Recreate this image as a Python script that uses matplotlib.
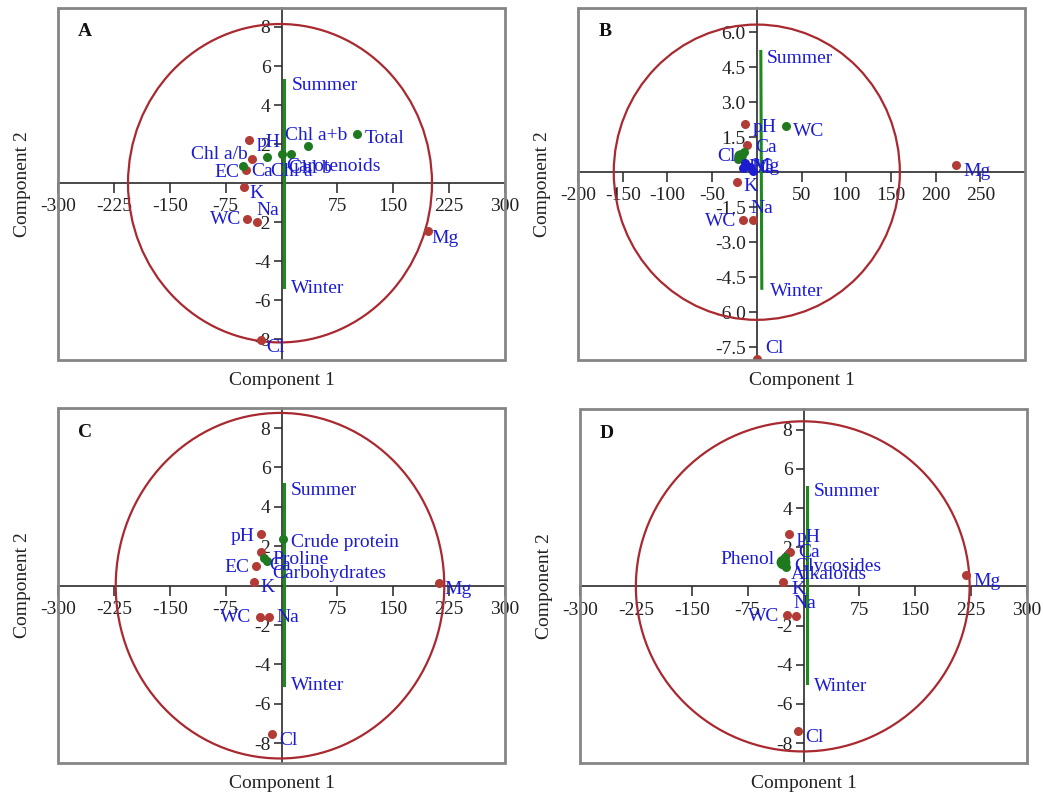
import numpy as np
import matplotlib
matplotlib.use('Agg')
import matplotlib.pyplot as plt
from matplotlib.patches import Ellipse, Rectangle

plt.rcParams['font.family'] = ['Liberation Serif', 'DejaVu Serif']

# ---- panel A ----
a_red_names = ['pH', 'Chl a/b', 'Ca', 'K', 'WC', 'Na', 'Mg', 'Cl']
a_red_x = [-43, -40, -48, -51, -46, -33, 196, -27]
a_red_y = [2.2, 1.23, 0.67, -0.2, -1.85, -2.0, -2.45, -8.05]
a_green_names = ['EC', 'Chl a', 'Chl b', 'Carotenoids', 'Chl a+b', 'Total']
a_green_x = [-52, -19, 1, 13, 35, 102]
a_green_y = [0.87, 1.33, 1.49, 1.49, 1.9, 2.5]
a_season_x = [4, 4]
a_season_y = [5.3, -5.3]
a_circle = [-2, 204, 8.15]          # centre x, radius x, radius y
a_xticks = [-300, -225, -150, -75, 75, 150, 225, 300]
a_yticks = [-8, -6, -4, -2, 2, 4, 6, 8]

# ---- panel B ----
b_red_names = ['pH', 'Ca', 'K', 'WC', 'Na', 'Mg', 'Cl']
b_red_x = [-13, -11, -21.6, -15.6, -3.7, 223, 0]
b_red_y = [2.07, 1.17, -0.4, -2.04, -2.04, 0.29, -8.0]
b_green_names = ['WC', 'Cl', '', '']
b_green_x = [32.4, -18.6, -14, -21]
b_green_y = [1.96, 0.7, 0.85, 0.55]
b_blue_names = ['EC', 'Mg', 'Na', '']
b_blue_x = [-13, -7.4, -3.7, -15.6]
b_blue_y = [0.39, 0.24, 0.07, 0.17]
b_season_x = [4.5, 5.6]
b_season_y = [5.17, -4.97]
b_circle = [0, 160, 6.32]
b_xticks = [-200, -150, -100, -50, 50, 100, 150, 200, 250]
b_yticks = [-7.5, -6.0, -4.5, -3.0, -1.5, 1.5, 3.0, 4.5, 6.0]

# ---- panel C ----
c_red_names = ['pH', 'Ca', 'EC', 'K', 'WC', 'Na', 'Mg', 'Cl']
c_red_x = [-27, -27, -34, -37, -29, -16.6, 212, -13.4]
c_red_y = [2.64, 1.72, 1.0, 0.19, -1.57, -1.57, 0.14, -7.54]
c_green_names = ['Crude protein', 'Proline', 'Carbohydrates']
c_green_x = [2.2, -23, -19]
c_green_y = [2.35, 1.41, 1.26]
c_season_x = [3.6, 3.6]
c_season_y = [5.14, -5.02]
c_circle = [-2, 220.5, 8.77]
c_xticks = a_xticks
c_yticks = a_yticks

# ---- panel D ----
d_red_names = ['pH', 'Ca', 'K', 'WC', 'Na', 'Mg', 'Cl']
d_red_x = [-19, -18, -27, -22.4, -9.9, 218.5, -7.6]
d_red_y = [2.69, 1.77, 0.24, -1.45, -1.5, 0.6, -7.4]
d_green_names = ['Phenol', 'Glycosides', 'Alkaloids']
d_green_x = [-27, -25, -24]
d_green_y = [1.26, 1.5, 1.0]
d_season_x = [4.9, 4.9]
d_season_y = [5.1, -4.94]
d_circle = [-1, 224, 8.43]
d_xticks = a_xticks
d_yticks = a_yticks

RED = '#b23b36'
GREEN = '#1f7a1f'
BLUE = '#1c1cd2'
LINE_GREEN = '#1e8a1e'
CIRCLE = '#a8292f'

# label offsets in pixels: (dx, dy, ha)
offsets = {
    'A': {('r', 'pH'): (7, -2, 'left'), ('r', 'Chl a/b'): (-4, 5, 'right'),
          ('r', 'Ca'): (6, -1, 'left'), ('r', 'K'): (6, -6, 'left'),
          ('r', 'WC'): (-6, 0, 'right'), ('r', 'Na'): (-1, 12, 'left'),
          ('r', 'Mg'): (4, -7, 'left'), ('r', 'Cl'): (5, -7, 'left'),
          ('g', 'EC'): (-3, -6, 'right'), ('g', 'Chl a'): (4, -14, 'left'),
          ('g', 'Chl b'): (7, -14, 'left'), ('g', 'Carotenoids'): (-5, -12, 'left'),
          ('g', 'Chl a+b'): (-23, 11, 'left'), ('g', 'Total'): (7, -4, 'left'),
          ('s', 0): (7, -6), ('s', 1): (7, -2)},
    'B': {('r', 'pH'): (7, -4, 'left'), ('r', 'Ca'): (8, -3, 'left'),
          ('r', 'K'): (6, -5, 'left'), ('r', 'WC'): (-6, -2, 'right'),
          ('r', 'Na'): (-3, 11, 'left'), ('r', 'Mg'): (7, -6, 'left'),
          ('r', 'Cl'): (8, 11, 'left'), ('g', 'WC'): (7, -5, 'left'),
          ('g', 'Cl'): (-5, -1, 'right'), ('b', 'EC'): (3, -4, 'left'),
          ('b', 'Mg'): (2, 0, 'left'), ('b', 'Na'): (-2, 2, 'left'),
          ('s', 0): (6, -7), ('s', 1): (8, -3)},
    'C': {('r', 'pH'): (-7, -3, 'right'), ('r', 'Ca'): (8, -14, 'left'),
          ('r', 'EC'): (-7, -2, 'right'), ('r', 'K'): (6, -6, 'left'),
          ('r', 'WC'): (-9, -1, 'right'), ('r', 'Na'): (7, -1, 'left'),
          ('r', 'Mg'): (5, -7, 'left'), ('r', 'Cl'): (8, -6, 'left'),
          ('g', 'Crude protein'): (8, -3, 'left'), ('g', 'Proline'): (8, -2, 'left'),
          ('g', 'Carbohydrates'): (5, -13, 'left'),
          ('s', 0): (7, -6), ('s', 1): (7, -1)},
    'D': {('r', 'pH'): (7, -4, 'left'), ('r', 'Ca'): (8, -1, 'left'),
          ('r', 'K'): (8, -8, 'left'), ('r', 'WC'): (-7, -2, 'right'),
          ('r', 'Na'): (-3, 12, 'left'), ('r', 'Mg'): (7, -7, 'left'),
          ('r', 'Cl'): (7, -6, 'left'), ('g', 'Phenol'): (-9, 2, 'right'),
          ('g', 'Glycosides'): (9, -9, 'left'), ('g', 'Alkaloids'): (5, -8, 'left'),
          ('s', 0): (7, -5), ('s', 1): (7, -3)},
}

big = {('B', 'g', 'Cl'): 9, ('D', 'g', 'Phenol'): 10}

panels = {
    'A': dict(series=[('r', a_red_names, a_red_x, a_red_y, RED),
                      ('g', a_green_names, a_green_x, a_green_y, GREEN)],
              season=(a_season_x, a_season_y), circle=a_circle,
              xticks=a_xticks, yticks=a_yticks, xlim=(-300, 300), ylim=(-9.05, 8.97),
              rect=(58, 8, 505, 360), fmt='%d'),
    'B': dict(series=[('r', b_red_names, b_red_x, b_red_y, RED),
                      ('g', b_green_names, b_green_x, b_green_y, GREEN),
                      ('b', b_blue_names, b_blue_x, b_blue_y, BLUE)],
              season=(b_season_x, b_season_y), circle=b_circle,
              xticks=b_xticks, yticks=b_yticks, xlim=(-200, 300), ylim=(-8.04, 7.03),
              rect=(578, 8, 1025, 360), fmt='%.1f'),
    'C': dict(series=[('r', c_red_names, c_red_x, c_red_y, RED),
                      ('g', c_green_names, c_green_x, c_green_y, GREEN)],
              season=(c_season_x, c_season_y), circle=c_circle,
              xticks=c_xticks, yticks=c_yticks, xlim=(-300, 300), ylim=(-9.0, 9.02),
              rect=(58, 408, 505, 763), fmt='%d'),
    'D': dict(series=[('r', d_red_names, d_red_x, d_red_y, RED),
                      ('g', d_green_names, d_green_x, d_green_y, GREEN)],
              season=(d_season_x, d_season_y), circle=d_circle,
              xticks=d_xticks, yticks=d_yticks, xlim=(-300, 300), ylim=(-9.02, 9.06),
              rect=(580, 409, 1027, 763), fmt='%d'),
}

W, H = 1043, 799
fig = plt.figure(figsize=(W / 100, H / 100), dpi=100)

for letter, p in panels.items():
    x0, y0, x1, y1 = p['rect']
    ax = fig.add_axes([x0 / W, 1 - y1 / H, (x1 - x0) / W, (y1 - y0) / H])
    ax.set_xlim(*p['xlim'])
    ax.set_ylim(*p['ylim'])

    # axes crossing at the origin, grey frame around
    ax.spines['left'].set_position('zero')
    ax.spines['bottom'].set_position('zero')
    ax.spines['top'].set_visible(False)
    ax.spines['right'].set_visible(False)
    for s in ('left', 'bottom'):
        ax.spines[s].set_color('#2a2a2a')
        ax.spines[s].set_linewidth(1.2)
    ax.add_patch(Rectangle((0, 0), 1, 1, transform=ax.transAxes, fill=False,
                           ec='#858585', lw=2.0, clip_on=False, zorder=6))

    ax.set_xticks(p['xticks'])
    ax.set_yticks(p['yticks'])
    ax.set_xticklabels([p['fmt'] % v if p['fmt'] == '%d' else '%g' % v for v in p['xticks']])
    ax.set_yticklabels([p['fmt'] % v for v in p['yticks']])
    ax.tick_params(axis='x', direction='out', length=7, width=1.1, pad=4,
                   labelsize=14, colors='#222222')
    ax.tick_params(axis='y', direction='out', length=6, width=1.1, pad=2,
                   labelsize=14, colors='#222222')

    cx, rx, ry = p['circle']
    ax.add_patch(Ellipse((cx, 0), 2 * rx, 2 * ry, fill=False, ec=CIRCLE, lw=1.6, zorder=3))

    sx, sy = p['season']
    ax.plot(sx, sy, color=LINE_GREEN, lw=2.2, zorder=3)
    for i, name in enumerate(['Summer', 'Winter']):
        dx, dy = offsets[letter][('s', i)]
        ax.annotate(name, (sx[i], sy[i]), xytext=(dx, dy), textcoords='offset pixels',
                    ha='left', va='center', color=BLUE, fontsize=14, zorder=5)

    for kind, names, xs, ys, color in p['series']:
        for n, x, y in zip(names, xs, ys):
            ms = big.get((letter, kind, n), 6.5)
            ax.plot(x, y, 'o', color=color, ms=ms, mec='none', zorder=4)
            if not n:
                continue
            dx, dy, ha = offsets[letter].get((kind, n), (6, 0, 'left'))
            ax.annotate(n, (x, y), xytext=(dx, dy), textcoords='offset pixels',
                        ha=ha, va='center', color=BLUE, fontsize=14, zorder=5)

    ax.text(0.06, 0.932, letter, transform=ax.transAxes, ha='center', va='center',
            fontsize=14, fontweight='bold', color='#111111')
    ax.text(0.5, -0.035, 'Component 1', transform=ax.transAxes, ha='center', va='top',
            fontsize=14, color='#222222')
    ax.text(-0.08, 0.5, 'Component 2', transform=ax.transAxes, ha='center', va='center',
            rotation=90, fontsize=14, color='#222222')

fig.savefig('out.png', dpi=100)
